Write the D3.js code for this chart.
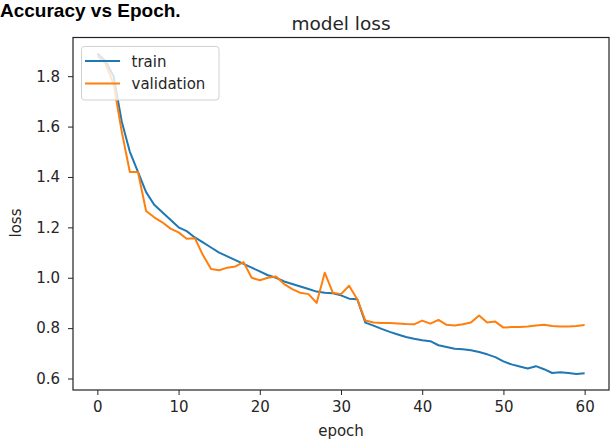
<!DOCTYPE html>
<html>
<head>
<meta charset="utf-8">
<script src="https://cdn.jsdelivr.net/npm/d3@7"></script>
<style>
  body { margin: 0; background: white; }
  text { font-family: 'DejaVu Sans', sans-serif; fill: #262626; }
</style>
</head>
<body>
<div id="chart"></div>
<script>
let epochs = d3.range(0, 61);
let trainLoss = [
    1.89, 1.86, 1.80, 1.62, 1.50, 1.42, 1.34, 1.29, 1.26, 1.23,
    1.20, 1.185, 1.16, 1.14, 1.12, 1.10, 1.085, 1.07, 1.055, 1.04,
    1.025, 1.01, 1.0, 0.985, 0.975, 0.965, 0.955, 0.945, 0.94, 0.938,
    0.93, 0.917, 0.915, 0.822, 0.81, 0.797, 0.785, 0.775, 0.765, 0.758,
    0.752, 0.748, 0.732, 0.725, 0.718, 0.716, 0.712, 0.705, 0.696, 0.685,
    0.668, 0.656, 0.648, 0.64, 0.649, 0.637, 0.622, 0.625, 0.622, 0.618,
    0.621
];
let valLoss = [
    1.88, 1.85, 1.77, 1.58, 1.42, 1.42, 1.265, 1.24, 1.22, 1.195,
    1.18, 1.155, 1.157, 1.09, 1.035, 1.03, 1.04, 1.045, 1.062, 1.0,
    0.99, 1.0, 1.005, 0.975, 0.955, 0.94, 0.935, 0.90, 1.02, 0.94,
    0.935, 0.968, 0.915, 0.83, 0.822, 0.82, 0.82, 0.818, 0.816, 0.815,
    0.83, 0.818, 0.833, 0.813, 0.81, 0.815, 0.822, 0.85, 0.822, 0.826,
    0.802, 0.804, 0.804, 0.806, 0.81, 0.813, 0.808, 0.806, 0.806, 0.808,
    0.812
];
let xTicks = [0, 10, 20, 30, 40, 50, 60];
let yTicks = [0.6, 0.8, 1.0, 1.2, 1.4, 1.6, 1.8];
let seriesNames = ['train', 'validation'];
let seriesColors = ['#1f77b4', '#ff7f0e'];

let width = 610;
let height = 440;
let plotLeft = 73, plotRight = 609, plotTop = 37.5, plotBottom = 390;

let svg = d3
    .select('#chart')
    .append('svg')
    .attr('width', width)
    .attr('height', height);

svg.append('text')
    .text('Accuracy vs Epoch.')
    .attr('x', 0)
    .attr('y', 17)
    .style('font-family', "'Liberation Sans', Arial, sans-serif")
    .style('font-weight', 'bold')
    .style('font-size', '19px')
    .style('fill', '#000');

// matplotlib-style 5% margins
let allVals = trainLoss.concat(valLoss);
let yMin = d3.min(allVals), yMax = d3.max(allVals);
let yPad = (yMax - yMin) * 0.05;

let xScale = d3.scaleLinear()
    .domain([-3, 63])
    .range([plotLeft, plotRight]);

let yScale = d3.scaleLinear()
    .domain([yMin - yPad, yMax + yPad])
    .range([plotBottom, plotTop]);

let xAxis = d3.axisBottom(xScale)
    .tickValues(xTicks)
    .tickSize(5)
    .tickPadding(6)
    .tickFormat(d3.format('d'));

let yAxis = d3.axisLeft(yScale)
    .tickValues(yTicks)
    .tickSize(5)
    .tickPadding(8)
    .tickFormat(d3.format('.1f'));

let gx = svg.append('g')
    .attr('transform', `translate(0,${plotBottom})`)
    .call(xAxis);
let gy = svg.append('g')
    .attr('transform', `translate(${plotLeft},0)`)
    .call(yAxis);

[gx, gy].forEach(g => {
    g.select('.domain').remove();
    g.selectAll('.tick line').attr('stroke', '#222').attr('stroke-width', 1);
    g.selectAll('.tick text')
        .style('font-size', '15px')
        .style('font-family', "'DejaVu Sans', sans-serif")
        .attr('fill', '#262626');
});

let line = d3.line()
    .x((d, i) => xScale(epochs[i]))
    .y(d => yScale(d));

[trainLoss, valLoss].forEach((s, i) => {
    svg.append('path')
        .datum(s)
        .attr('fill', 'none')
        .attr('stroke', seriesColors[i])
        .attr('stroke-width', 2)
        .attr('stroke-linejoin', 'round')
        .attr('d', line);
});

// frame
svg.append('rect')
    .attr('x', plotLeft)
    .attr('y', plotTop)
    .attr('width', plotRight - plotLeft)
    .attr('height', plotBottom - plotTop)
    .attr('fill', 'none')
    .attr('stroke', '#222')
    .attr('stroke-width', 1.2);

svg.append('text')
    .text('model loss')
    .attr('x', (plotLeft + plotRight) / 2)
    .attr('y', 30)
    .attr('text-anchor', 'middle')
    .style('font-size', '18.5px');

svg.append('text')
    .text('epoch')
    .attr('x', (plotLeft + plotRight) / 2)
    .attr('y', 436)
    .attr('text-anchor', 'middle')
    .style('font-size', '15px');

svg.append('text')
    .text('loss')
    .attr('transform', 'translate(20.5,223)rotate(-90)')
    .attr('text-anchor', 'middle')
    .style('font-size', '15px');

// legend
let legend = svg.append('g');
legend.append('rect')
    .attr('x', 81.5)
    .attr('y', 46.5)
    .attr('width', 137.5)
    .attr('height', 53.5)
    .attr('rx', 3)
    .attr('fill', 'white')
    .attr('fill-opacity', 0.8)
    .attr('stroke', '#d0d0d0')
    .attr('stroke-width', 1);

seriesNames.forEach((name, i) => {
    let ly = 61 + i * 22.5;
    legend.append('line')
        .attr('x1', 85)
        .attr('x2', 120)
        .attr('y1', ly)
        .attr('y2', ly)
        .attr('stroke', seriesColors[i])
        .attr('stroke-width', 2);
    legend.append('text')
        .text(name)
        .attr('x', 131.5)
        .attr('y', ly + 5.5)
        .style('font-size', '15px');
});
</script>
</body>
</html>
